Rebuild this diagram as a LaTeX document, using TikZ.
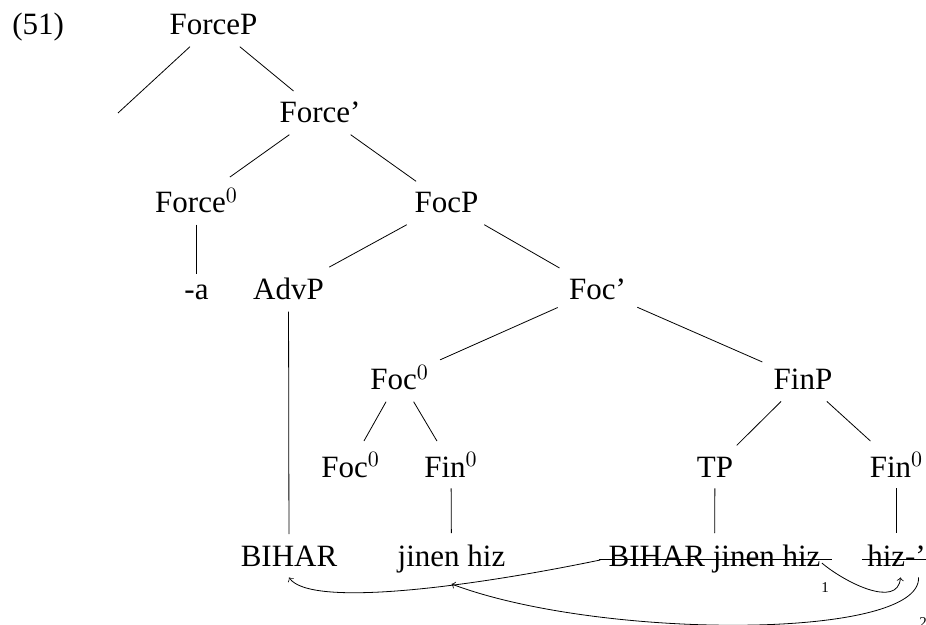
\documentclass[tikz,border=0pt]{standalone}
\usepackage{fontspec}
\setmainfont{Liberation Serif}
\begin{document}
\begin{tikzpicture}[
  x=0.5pt, y=-0.5pt,
  font=\fontsize{15.5}{18}\selectfont,
  cat/.style={inner sep=5.5pt, anchor=base},
  num/.style={inner sep=0pt, anchor=base, font=\fontsize{7.5}{9}\selectfont},
  mv/.style={->, shorten >=0pt}
]
\useasboundingbox (0,0) rectangle (926,625);
\node[cat, anchor=base west] (ex) at (1,35) {(51)};
% upper tree
\node[cat] (forcep) at (213.5,35) {ForceP};
\coordinate (spec) at (118,113);
\node[cat] (forcebar) at (320,123) {Force'};
\node[cat] (force0) at (196.5,213) {Force$^0$};
\node[cat] (focp) at (446.5,213) {FocP};
\node[cat] (a) at (196.5,300) {-a};
\node[cat] (advp) at (288.5,300) {AdvP};
\node[cat] (focbar) at (597.5,300) {Foc'};
\node[cat] (foc0) at (399.5,390) {Foc$^0$};
\node[cat] (finp) at (803,390) {FinP};
\node[cat] (foc0b) at (350.5,477) {Foc$^0$};
\node[cat] (fin0) at (451,477) {Fin$^0$};
\node[cat] (tp) at (715,477) {TP};
\node[cat] (fin0b) at (896.5,477) {Fin$^0$};
% bottom row
\node[cat] (bihar) at (289,566) {BIHAR};
\node[cat] (jinen) at (451.5,566) {jinen hiz};
\node[cat] (tpcont) at (714.5,566) {BIHAR jinen hiz};
\node[cat] (hiz) at (896.5,566) {hiz-'};
\foreach \p/\c in {forcep/spec, forcep/forcebar, forcebar/force0, forcebar/focp,
  force0/a, focp/advp, focp/focbar, advp/bihar, focbar/foc0, focbar/finp,
  foc0/foc0b, foc0/fin0, fin0/jinen, finp/tp, finp/fin0b, tp/tpcont, fin0b/hiz}
  \draw (\p) -- (\c);
% deleted copies
\draw ([xshift=1pt,yshift=3.5pt]tpcont.base west) -- ([yshift=3.5pt]tpcont.base east);
\draw ([xshift=3pt,yshift=3.5pt]hiz.base west) -- ([yshift=3.5pt]hiz.base east);
% movement
\draw[mv] ([xshift=1.5pt,yshift=3pt]tpcont.base west) .. controls (470,587) and (310,608) .. (bihar.south);
\draw[mv] ([xshift=-5pt,yshift=1.5pt]tpcont.base east) to[out=-40, in=-95] ([xshift=2pt]hiz.south);
\draw[mv] ([xshift=11pt]hiz.south) .. controls (922,640) and (600,640) .. (jinen.south);
\node[num] (n1) at (825,592) {1};
\node[num] (n2) at (923,627) {2};
\end{tikzpicture}
\end{document}
